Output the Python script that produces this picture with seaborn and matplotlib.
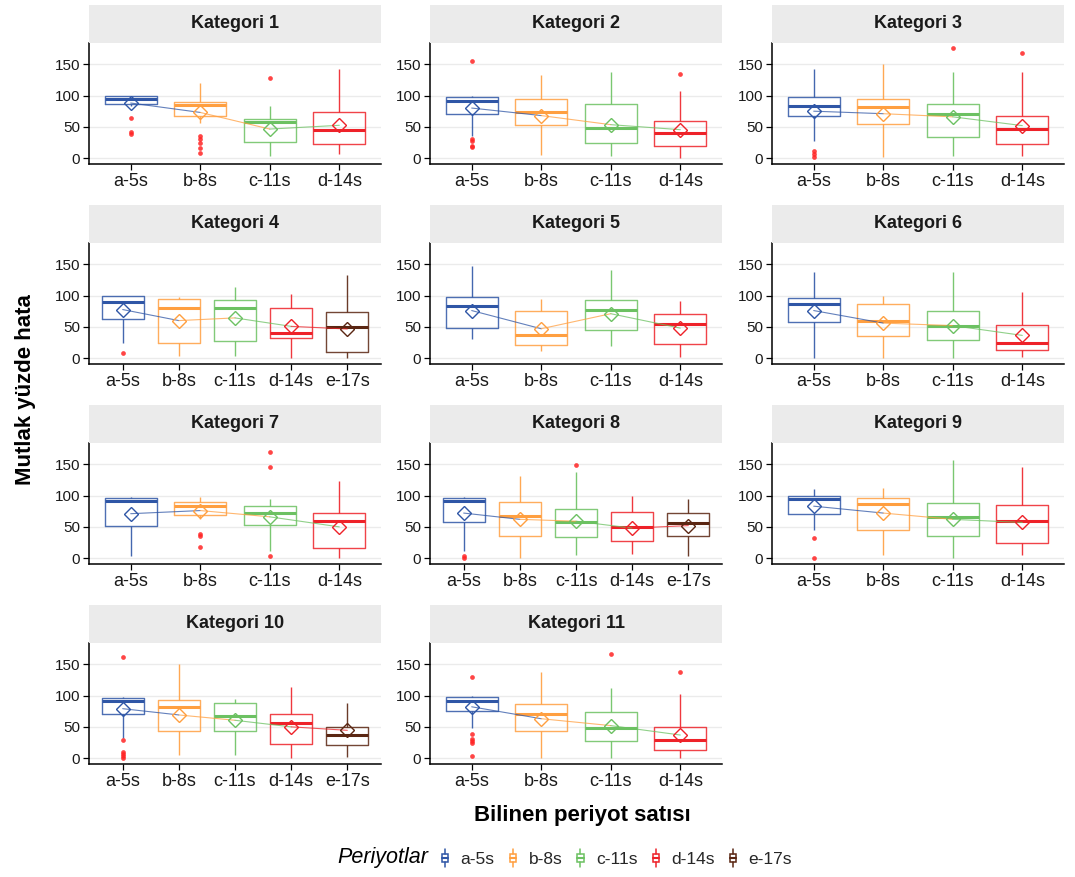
import numpy as np
import pandas as pd
import matplotlib
matplotlib.use("Agg")
import matplotlib.pyplot as plt
import seaborn as sns
from matplotlib.lines import Line2D
from matplotlib.patches import Rectangle
from matplotlib.legend_handler import HandlerBase

sns.set_theme(style="white")
plt.rcParams["font.family"] = ["Liberation Sans", "DejaVu Sans"]

# ---------------- data ----------------
categories = ["Kategori %d" % i for i in range(1, 12)]
periods = ["a-5s", "b-8s", "c-11s", "d-14s", "e-17s"]
n_periods = [4, 4, 4, 5, 4, 4, 4, 5, 4, 5, 4]

whisker_low = [
    [83, 56, 3, 6], [35, 5, 3, 0], [27, 1.5, 4, 3], [24, 3, 4, 0, 0],
    [31, 11, 20, 1.5], [0, 0, 0, 1.5], [3, 62, 11, 0], [11, 0, 5, 7, 4],
    [45, 5, 0, 5], [32, 5, 5, 0, 1.6], [48, 0, 0, 0],
]
q1 = [
    [87, 68, 26, 22.5], [71, 52.5, 25, 20], [67, 55, 34, 22.5], [63, 24, 28, 31.5, 10.5],
    [48, 21, 44.5, 23], [57, 35, 29.5, 13.4], [52, 69, 53.6, 15.5], [57, 36, 34, 28, 35],
    [71, 45.5, 35, 24], [70, 44, 43, 22.5, 21.4], [76, 43, 27, 13.4],
]
median = [
    [94, 85.5, 57, 44.5], [92, 73, 48, 40], [84, 81, 70, 46.5], [89, 80, 80, 41, 49],
    [84, 37.5, 77, 55], [87, 60, 52, 24], [91, 83, 72, 60], [91, 68, 57, 50, 56],
    [95, 87, 66, 59], [92, 81, 68, 56, 37.5], [91, 71, 48, 29.5],
]
q3 = [
    [99, 89, 63, 73], [98, 94, 87, 59.5], [98, 95, 87, 68], [99, 94, 93, 80, 73.5],
    [98, 75, 93, 70], [96.5, 86, 75.5, 53.6], [96.5, 89.5, 83, 72], [96.5, 90, 77.7, 73, 72],
    [99, 96, 88, 85], [96.5, 93, 88, 71, 50], [98, 86, 73, 50],
]
whisker_high = [
    [99.5, 120, 84, 143], [99, 132, 137, 107], [142, 150, 137, 137], [99.5, 97.5, 113.5, 103, 132],
    [147, 95, 141, 92], [137, 99, 137, 105.6], [98, 98, 95, 123], [98, 131, 138, 100, 94],
    [110, 112.5, 157, 145], [98, 150, 95, 113.6, 88], [99, 137, 112.5, 102],
]
means = [
    [88, 73, 46.5, 52.5], [80, 68, 53.5, 45.5], [75, 71, 66, 52], [77.6, 60, 64.3, 50.8, 46.6],
    [76, 47, 71, 48], [76, 56, 52, 36.4], [71, 76, 66, 50], [72, 62, 59, 48, 52],
    [83, 72, 62, 57], [79, 69, 60.5, 50, 44.5], [82, 63, 52, 37],
]
outliers = [
    {"a-5s": [64, 42, 38], "b-8s": [35, 31, 25, 16, 9], "c-11s": [127.5]},
    {"a-5s": [155, 30, 27, 20, 17.5], "d-14s": [134]},
    {"a-5s": [11, 6, 2], "c-11s": [175], "d-14s": [168]},
    {"a-5s": [8.5]},
    {},
    {},
    {"b-8s": [38.6, 35, 17.7], "c-11s": [170, 145, 4]},
    {"a-5s": [3, 1], "c-11s": [148]},
    {"a-5s": [32, 0]},
    {"a-5s": [161, 29.5, 10, 7, 3, 0]},
    {"a-5s": [130, 39, 30.5, 27, 24, 3], "c-11s": [166], "d-14s": [138]},
]

colors = ["#2F56A6", "#FF9F40", "#6CC162", "#EE2229", "#5A2612"]
palette = dict(zip(periods, colors))
outlier_color = "#FF2424"

# ---------------- layout ----------------
W, H = 1075, 877
fig = plt.figure(figsize=(W / 100, H / 100), dpi=100)
fig.patch.set_facecolor("white")

col_left = [89, 430, 772]
panel_w = 292
row_top = [5, 205, 405, 605]
strip_h = 38
panel_h = 120.7

for k, cat in enumerate(categories):
    r, c = divmod(k, 3)
    left = col_left[c]
    top = row_top[r]
    n = n_periods[k]
    per = periods[:n]

    ax = fig.add_axes([left / W, 1 - (top + strip_h + panel_h) / H, panel_w / W, panel_h / H])

    # five-number summaries as data rows for seaborn's box drawing
    rows = []
    for i, p in enumerate(per):
        for v in (whisker_low[k][i], q1[k][i], median[k][i], q3[k][i], whisker_high[k][i]):
            rows.append({"period": p, "value": v})
    df = pd.DataFrame(rows)

    ax.grid(True, color="#EBEBEB", linewidth=1.0, zorder=0)
    ax.set_axisbelow(True)

    sns.boxplot(
        data=df, x="period", y="value", hue="period", order=per, hue_order=per,
        palette=palette, saturation=1, fill=False, dodge=False, width=0.75,
        whis=(0, 100), showfliers=False, showcaps=False, linewidth=1.0,
        boxprops={"alpha": 0.85}, whiskerprops={"alpha": 0.9},
        medianprops={"linewidth": 2.2}, legend=False, ax=ax,
    )

    # outliers
    orows = [{"period": p, "value": v} for p, vals in outliers[k].items() for v in vals]
    if orows:
        odf = pd.DataFrame(orows)
        sns.stripplot(data=odf, x="period", y="value", order=per, jitter=False,
                      color=outlier_color, size=3.4, alpha=0.85, linewidth=0, ax=ax, zorder=4)

    # mean lines (segment colour = starting group) and open diamonds
    xpos = np.arange(n)
    for i in range(n - 1):
        ax.plot(xpos[i:i + 2], means[k][i:i + 2], color=colors[i], lw=0.8, alpha=0.75, zorder=5)
    for i in range(n):
        ax.plot(xpos[i], means[k][i], marker="D", ms=7, mfc="none",
                mec=colors[i], mew=1.0, zorder=7)

    ax.set_xlim(-0.6, n - 0.4)
    ax.set_ylim(-8.75, 183.75)
    ax.set_yticks([0, 50, 100, 150])
    ax.set_xticks(xpos)
    ax.set_xticklabels(per)
    ax.set_xlabel("")
    ax.set_ylabel("")
    for s in ("top", "right"):
        ax.spines[s].set_visible(False)
    for s in ("left", "bottom"):
        ax.spines[s].set_color("black")
        ax.spines[s].set_linewidth(1.1)
    ax.tick_params(axis="both", which="major", length=4.5, width=0.9, color="black",
                   bottom=True, left=True)
    ax.tick_params(axis="x", labelsize=13, labelcolor="#1a1a1a", pad=2)
    ax.tick_params(axis="y", labelsize=11, labelcolor="#1a1a1a", pad=2)

    # strip
    fig.add_artist(Rectangle((left / W, 1 - (top + strip_h) / H), panel_w / W, strip_h / H,
                             transform=fig.transFigure, facecolor="#EBEBEB", edgecolor="none"))
    fig.text((left + panel_w / 2) / W, 1 - (top + strip_h / 2) / H, cat,
             ha="center", va="center", fontsize=13, fontweight="bold", color="#1a1a1a")

# axis titles
fig.text(26 / W, 1 - 390 / H, "Mutlak yüzde hata", rotation=90, ha="center", va="center",
         fontsize=16, fontweight="bold", color="black")
fig.text(582 / W, 1 - 816 / H, "Bilinen periyot satısı", ha="center", va="center",
         fontsize=16, fontweight="bold", color="black")


# legend with box glyphs
class BoxHandler(HandlerBase):
    def create_artists(self, legend, orig_handle, xdescent, ydescent, width, height,
                       fontsize, trans):
        col = orig_handle.get_color()
        cx = width / 2 - xdescent
        bw = width * 0.45
        by0 = -ydescent + height * 0.28
        bh = height * 0.44
        rect = Rectangle((cx - bw / 2, by0), bw, bh, facecolor="none", edgecolor=col,
                         lw=1.1, transform=trans)
        wl = Line2D([cx, cx], [-ydescent + height * 0.02, by0], color=col, lw=1.1, transform=trans)
        wh = Line2D([cx, cx], [by0 + bh, -ydescent + height * 0.98], color=col, lw=1.1,
                    transform=trans)
        md = Line2D([cx - bw / 2, cx + bw / 2], [by0 + bh / 2, by0 + bh / 2], color=col, lw=1.5,
                    transform=trans)
        return [rect, wl, wh, md]


handles = [Line2D([], [], color=col) for col in colors]
fig.text(337 / W, 1 - 858 / H, "Periyotlar", ha="left", va="center", fontsize=15.5,
         style="italic", color="black")
fig.legend(handles, periods, ncol=5, loc="center left", bbox_to_anchor=(438 / W, 1 - 858 / H),
           frameon=False, fontsize=12.5, handlelength=0.8, handleheight=1.3,
           handletextpad=0.5, columnspacing=0.65, borderpad=0, borderaxespad=0,
           handler_map={Line2D: BoxHandler()})

fig.savefig("out.png", dpi=100, facecolor="white")
